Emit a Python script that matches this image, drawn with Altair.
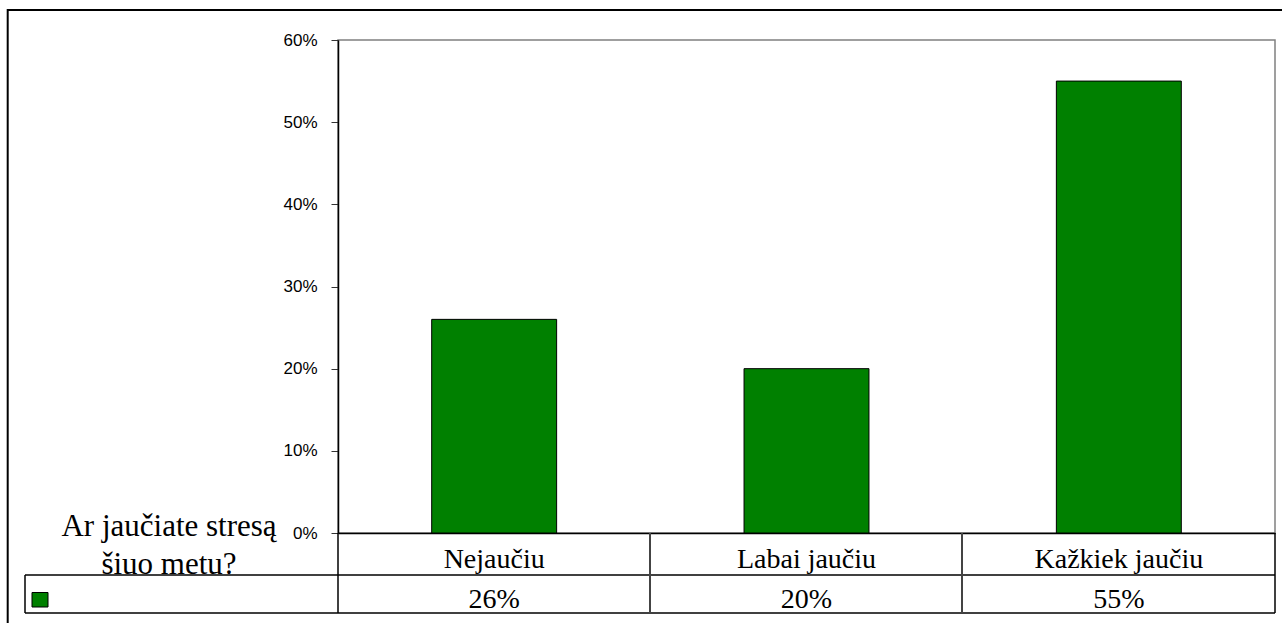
import altair as alt
import pandas as pd

categories = ["Nejaučiu", "Labai jaučiu", "Kažkiek jaučiu"]
values = [0.26, 0.20, 0.55]
value_labels = ["26%", "20%", "55%"]
title_lines = ["Ar jaučiate stresą", "šiuo metu?"]
y_ticks = [0, 0.1, 0.2, 0.3, 0.4, 0.5, 0.6]

df = pd.DataFrame({"cat": categories, "val": values, "lab": value_labels})
one = pd.DataFrame({"k": [0]})

W, H = 937, 493
GREEN = "#008000"

x_enc = alt.X(
    "cat:N", sort=categories,
    scale=alt.Scale(paddingInner=0.6, paddingOuter=0.3),
    axis=alt.Axis(title=None, labelAngle=0, labelFont="Liberation Serif", labelFontSize=28,
                  labelColor="black", ticks=False, labelPadding=12, domainColor="black",
                  domainWidth=1.5, grid=False),
)
y_enc = alt.Y(
    "val:Q", scale=alt.Scale(domain=[0, 0.6]),
    axis=alt.Axis(title=None, values=y_ticks, format=".0%", labelFont="Liberation Sans",
                  labelFontSize=17, labelColor="black", tickSize=7, tickColor="#333333",
                  labelPadding=14, domainColor="black", domainWidth=1.5, grid=False),
)

bars = alt.Chart(df).mark_bar(fill=GREEN, stroke="black", strokeWidth=1).encode(x=x_enc, y=y_enc)

vals = alt.Chart(df).mark_text(font="Liberation Serif", fontSize=28, baseline="alphabetic",
                               color="black").encode(x=x_enc, y=alt.value(568), text="lab:N")

def hline(y, x1, x2, w=1.5):
    return alt.Chart(one).mark_rule(color="black", strokeWidth=w).encode(
        y=alt.value(y), x=alt.value(x1), x2=alt.value(x2))

def vline(x, y1, y2, w=1.5, color="black"):
    return alt.Chart(one).mark_rule(color=color, strokeWidth=w).encode(
        x=alt.value(x), y=alt.value(y1), y2=alt.value(y2))

lines = [
    hline(535, -313, W),
    hline(573, -313, W),
    vline(-313, 535, 573),
    vline(0, 493, 573),
    vline(312, 493, 573, 2, "#444444"),
    vline(624, 493, 573, 2, "#444444"),
    vline(W, 493, 573),
    # outer frame
    vline(-330.3, -31, 583, 2),
    hline(-30, -331, 944, 2),
]

legend_sq = alt.Chart(one).mark_rect(fill=GREEN, stroke="black", strokeWidth=1).encode(
    x=alt.value(-306), x2=alt.value(-290), y=alt.value(552.5), y2=alt.value(567))

title = alt.Chart(one).mark_text(text=title_lines, font="Liberation Serif", fontSize=31,
                                 lineHeight=38, align="center", baseline="alphabetic",
                                 color="black").encode(x=alt.value(-169), y=alt.value(496))

chart = alt.layer(bars, vals, legend_sq, title, *lines).properties(
    width=W, height=H,
    autosize=alt.AutoSizeParams(type="none"),
    padding={"left": 338, "top": 40, "right": 7, "bottom": 90},
    background="white",
).configure_view(stroke="#808080", strokeWidth=1.5)

chart.save("out.html", embed_options={"renderer": "svg", "actions": False})
